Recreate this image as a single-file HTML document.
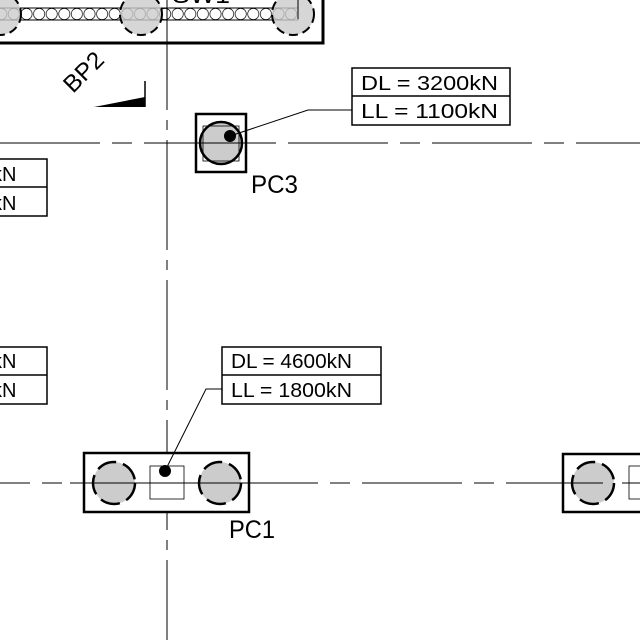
<!DOCTYPE html>
<html><head><meta charset="utf-8"><style>
html,body{margin:0;padding:0;background:#fff}
svg{display:block}
text{font-family:"Liberation Sans",sans-serif;fill:#000}
</style></head><body>
<svg width="640" height="640" viewBox="0 0 640 640" xmlns="http://www.w3.org/2000/svg">
<defs>
<pattern id="ov" x="-5" y="8" width="12.6" height="12" patternUnits="userSpaceOnUse">
<circle cx="6.3" cy="6" r="5.6" fill="none" stroke="#000" stroke-width="0.7"/>
</pattern>
</defs>
<line x1="167" y1="0" x2="167" y2="640" stroke="#000" stroke-width="1" stroke-dasharray="110,10,10,10"/>
<line x1="0" y1="143" x2="640" y2="143" stroke="#000" stroke-width="1" stroke-dasharray="100,12,20,12"/>
<line x1="0" y1="483" x2="640" y2="483" stroke="#000" stroke-width="1" stroke-dasharray="100,12,20,12" stroke-dashoffset="70"/>

<rect x="-10" y="-10" width="333" height="53" fill="#fff" stroke="#000" stroke-width="3"/>
<rect x="-5" y="8" width="303" height="12" fill="url(#ov)" stroke="#000" stroke-width="1"/>
<circle cx="0" cy="14" r="21" fill="#ccc" fill-opacity="0.8" stroke="#000" stroke-width="2" stroke-dasharray="9,5"/>
<circle cx="141" cy="14" r="21" fill="#ccc" fill-opacity="0.8" stroke="#000" stroke-width="2" stroke-dasharray="9,5"/>
<circle cx="293" cy="14" r="21" fill="#ccc" fill-opacity="0.8" stroke="#000" stroke-width="2" stroke-dasharray="9,5"/>
<polyline points="288,-5 298,-5 298,19" fill="none" stroke="#000" stroke-width="1"/>
<line x1="167" y1="0" x2="167" y2="43" stroke="#000" stroke-width="1"/>
<text x="172" y="3" font-size="24" textLength="58" lengthAdjust="spacingAndGlyphs">SW1</text>

<text x="0" y="0" font-size="24" textLength="46" lengthAdjust="spacingAndGlyphs" transform="translate(73,94) rotate(-45)">BP2</text>
<polygon points="94,107 145,97 145,107" fill="#000"/>
<line x1="145" y1="81" x2="145" y2="107" stroke="#000" stroke-width="1.5"/>

<rect x="196" y="114" width="50" height="58" fill="#fff" stroke="#000" stroke-width="2.5"/>
<circle cx="221" cy="143" r="21" fill="#ccc" stroke="#000" stroke-width="2.5"/>
<rect x="203" y="126" width="36" height="35" fill="none" stroke="#000" stroke-width="0.8"/>
<line x1="196" y1="143" x2="260" y2="143" stroke="#000" stroke-width="1"/>
<circle cx="230" cy="136" r="6" fill="#000"/>
<polyline points="230,136 308,110 352,110" fill="none" stroke="#000" stroke-width="1"/>
<text x="251" y="193" font-size="25" textLength="47" lengthAdjust="spacingAndGlyphs">PC3</text>
<rect x="352" y="68" width="158" height="57" fill="#fff" stroke="#000" stroke-width="1.5"/>
<line x1="352" y1="96" x2="510" y2="96" stroke="#000" stroke-width="1.5"/>
<text x="361" y="90" font-size="20" textLength="137" lengthAdjust="spacingAndGlyphs">DL = 3200kN</text>
<text x="361" y="118" font-size="20" textLength="137" lengthAdjust="spacingAndGlyphs">LL = 1100kN</text>

<rect x="-60" y="159" width="107" height="57" fill="#fff" stroke="#000" stroke-width="1.5"/>
<line x1="-60" y1="187" x2="47" y2="187" stroke="#000" stroke-width="1.5"/>
<text x="-8" y="181" font-size="20">kN</text>
<text x="-8" y="210" font-size="20">kN</text>
<rect x="-60" y="347" width="107" height="57" fill="#fff" stroke="#000" stroke-width="1.5"/>
<line x1="-60" y1="375" x2="47" y2="375" stroke="#000" stroke-width="1.5"/>
<text x="-8" y="368" font-size="20">kN</text>
<text x="-8" y="397" font-size="20">kN</text>

<rect x="84" y="453" width="165" height="59" fill="#fff" stroke="#000" stroke-width="2.5"/>
<circle cx="114" cy="483" r="21" fill="#ccc" stroke="#000" stroke-width="2.5" stroke-dasharray="20,7"/>
<circle cx="220" cy="483" r="21" fill="#ccc" stroke="#000" stroke-width="2.5" stroke-dasharray="20,7"/>
<rect x="150" y="466" width="34" height="33" fill="none" stroke="#000" stroke-width="0.8"/>
<line x1="70" y1="483" x2="262" y2="483" stroke="#000" stroke-width="1"/>
<circle cx="165" cy="471" r="6" fill="#000"/>
<polyline points="165,471 206,389 222,389" fill="none" stroke="#000" stroke-width="1"/>
<text x="229" y="538" font-size="25" textLength="46" lengthAdjust="spacingAndGlyphs">PC1</text>
<rect x="222" y="347" width="159" height="57" fill="#fff" stroke="#000" stroke-width="1.5"/>
<line x1="222" y1="375" x2="381" y2="375" stroke="#000" stroke-width="1.5"/>
<text x="231" y="368" font-size="20" textLength="121" lengthAdjust="spacingAndGlyphs">DL = 4600kN</text>
<text x="231" y="397" font-size="20" textLength="121" lengthAdjust="spacingAndGlyphs">LL = 1800kN</text>

<rect x="563" y="454" width="90" height="58" fill="#fff" stroke="#000" stroke-width="2.5"/>
<circle cx="593" cy="483" r="21" fill="#ccc" stroke="#000" stroke-width="2.5" stroke-dasharray="20,7"/>
<rect x="629" y="466" width="20" height="33" fill="none" stroke="#000" stroke-width="0.8"/>
<line x1="540" y1="483" x2="603" y2="483" stroke="#000" stroke-width="1"/>
<line x1="622" y1="483" x2="640" y2="483" stroke="#000" stroke-width="1"/>
</svg>
</body></html>
